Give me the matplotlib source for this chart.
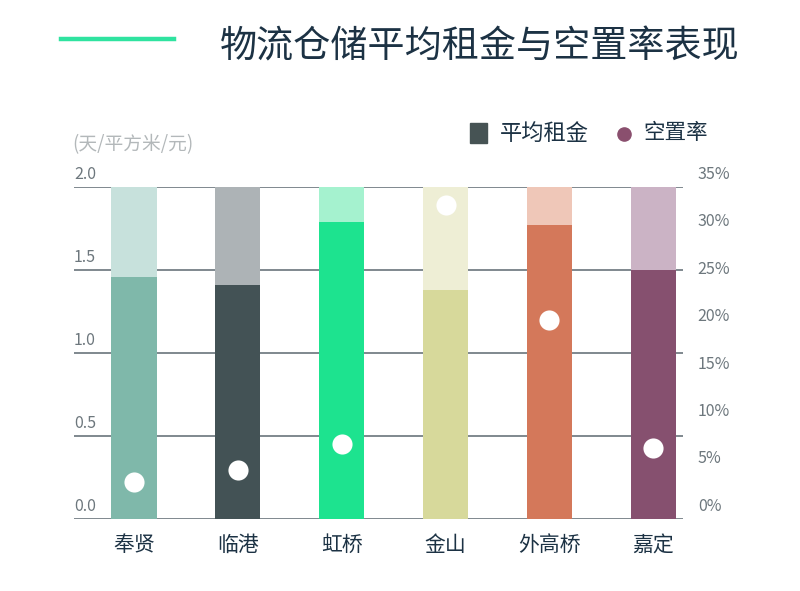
import matplotlib
matplotlib.use("Agg")
import matplotlib.pyplot as plt
from matplotlib.lines import Line2D
from matplotlib.patches import Rectangle

plt.rcParams["font.family"] = ["Noto Sans CJK SC", "DejaVu Sans"]

# data
districts = ["奉贤", "临港", "虹桥", "金山", "外高桥", "嘉定"]
avg_rent = [1.46, 1.41, 1.79, 1.38, 1.77, 1.50]          # 元/平方米/天
vacancy = [3.9, 5.2, 7.9, 33.1, 21.0, 7.5]                # %
rent_ticks = [0.0, 0.5, 1.0, 1.5, 2.0]
rent_tick_labels = ["0.0", "0.5", "1.0", "1.5", "2.0"]
vac_ticks = [0, 5, 10, 15, 20, 25, 30, 35]
vac_tick_labels = [f"{v}%" for v in vac_ticks]

dark_colors = ["#7fb8aa", "#435255", "#1de38f", "#d7d99b", "#d4785a", "#86506f"]
light_colors = ["#c7e1dc", "#adb3b6", "#a5f2cf", "#eeeed5", "#efc7b8", "#cbb3c5"]

TITLE_COLOR = "#1c3244"
TICK_COLOR = "#6d777d"
GRID_COLOR = "#5c6870"

fig = plt.figure(figsize=(8, 5.91), dpi=100)
ax = fig.add_axes([0.0925, 0.1218, 0.761, 0.5618])

rent_max = rent_ticks[-1]
vac_max = vac_ticks[-1]
x = list(range(len(districts)))
width = 0.435

# full-height pale bar, then the real value on top of it
ax.bar(x, [rent_max] * len(x), width=width, color=light_colors, zorder=2)
ax.bar(x, avg_rent, width=width, color=dark_colors, zorder=3)

for t in rent_ticks:
    ax.axhline(t, color=GRID_COLOR, lw=1.1, zorder=1)

ax.set_xlim(-0.578, 5.284)
ax.set_ylim(0, rent_max)

ax2 = ax.twinx()
ax2.set_ylim(0, vac_max)
ax2.scatter(x, vacancy, s=210, color="white", zorder=5, linewidths=0)

for a in (ax, ax2):
    for s in a.spines.values():
        s.set_visible(False)
    a.set_yticks([])

ax.set_xticks(x)
ax.set_xticklabels(districts, fontsize=15, color=TITLE_COLOR)
ax.tick_params(axis="x", length=0, pad=11)

# tick labels sit just above their gridline
for t, lab in zip(rent_ticks, rent_tick_labels):
    ax.annotate(lab, xy=(0, t), xycoords=ax.get_yaxis_transform(),
                xytext=(0, 3), textcoords="offset points",
                ha="left", va="bottom", fontsize=11.5, color=TICK_COLOR)
for v, lab in zip(vac_ticks, vac_tick_labels):
    ax2.annotate(lab, xy=(1.0246, v), xycoords=ax2.get_yaxis_transform(),
                 xytext=(0, 3), textcoords="offset points",
                 ha="left", va="bottom", fontsize=11.5, color=TICK_COLOR)

# header
fig.add_artist(Line2D([61 / 800, 174 / 800], [1 - 39 / 591] * 2,
                      color="#2fe3a0", lw=3.2, transform=fig.transFigure))
fig.text(220 / 800, 1 - 47 / 591, "物流仓储平均租金与空置率表现",
         fontsize=26.7, color=TITLE_COLOR, va="center", ha="left")

fig.text(72 / 800, 1 - 145 / 591, "(天/平方米/元)",
         fontsize=13.5, color="#b3b8ba", va="center", ha="left")

# legend
fig.add_artist(Rectangle((470 / 800, 1 - 143 / 591), 17 / 800, 20 / 591,
                         color="#465354", transform=fig.transFigure))
fig.text(500 / 800, 1 - 133 / 591, "平均租金", fontsize=16,
         color=TITLE_COLOR, va="center", ha="left")
fig.add_artist(Line2D([624 / 800], [1 - 134 / 591], marker="o", ms=9.5,
                      color="#8a4f6e", lw=0, transform=fig.transFigure))
fig.text(643 / 800, 1 - 133 / 591, "空置率", fontsize=15.5,
         color=TITLE_COLOR, va="center", ha="left")

fig.savefig("out.png", dpi=100, facecolor="white")
